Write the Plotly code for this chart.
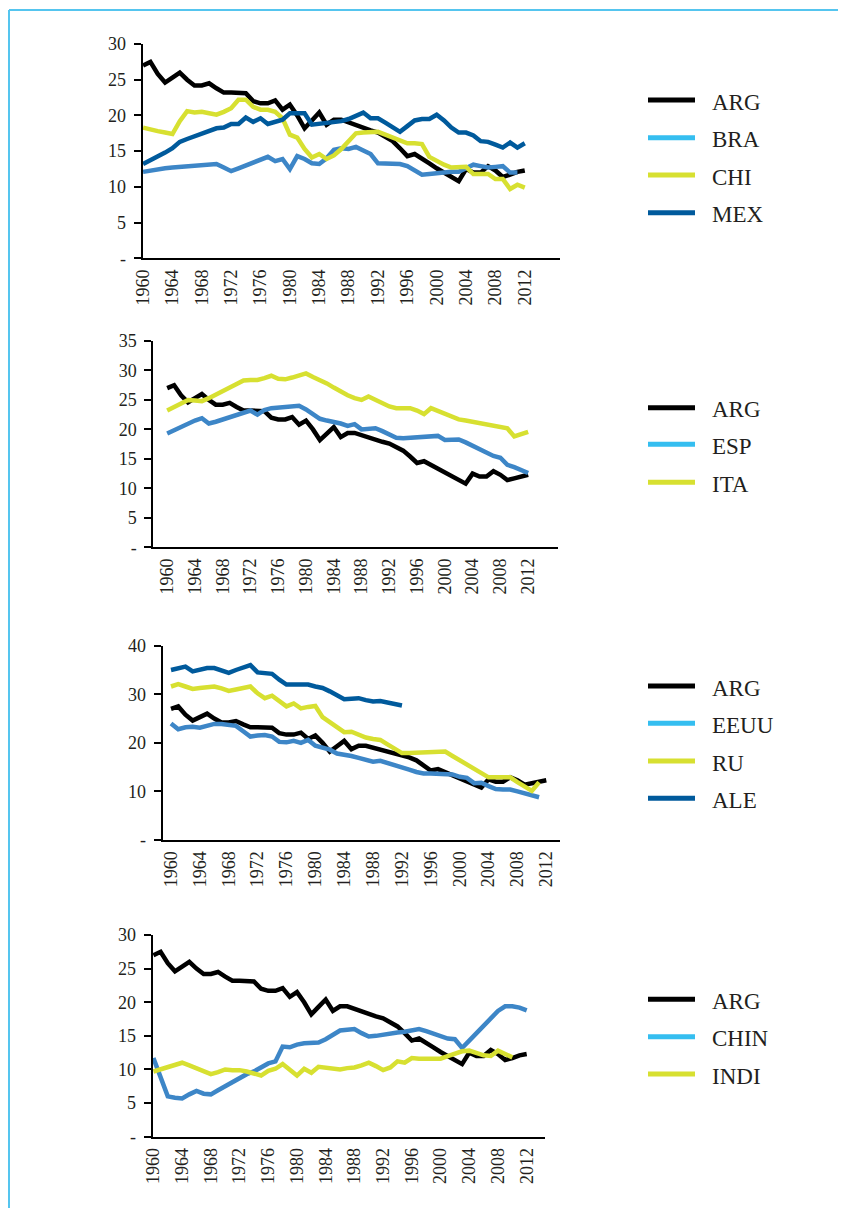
import plotly.graph_objects as go

# --- data -------------------------------------------------------------
years = list(range(1960, 2013))
year_ticks = list(range(1960, 2013, 4))

arg = [27.0, 27.5, 25.8, 24.6, 25.3, 26.0, 25.0, 24.2, 24.2, 24.5,
       23.8, 23.2, 23.2, 23.1, 23.1, 22.0, 21.7, 21.7, 22.1, 20.8,
       21.5, 20.0, 18.2, 19.3, 20.4, 18.7, 19.4, 19.4, 19.0, 18.6,
       18.2, 17.9, 17.6, 17.0, 16.4, 15.4, 14.3, 14.6, 14.0, 13.3,
       12.6, 12.0, 11.5, 10.8, 12.5, 12.0, 12.0, 12.9, 12.3, 11.4,
       11.7, 12.1, 12.3]
bra = [12.1, 12.3, 12.4, 12.6, 12.7, 12.8, 12.8, 12.9, 13.0, 13.1,
       13.2, 12.7, 12.2, 12.6, 13.0, 13.4, 13.8, 14.2, 13.6, 13.9,
       12.5, 14.3, 13.9, 13.3, 13.2, 14.0, 15.2, 15.4, 15.3, 15.6,
       15.1, 14.6, 13.3, 13.3, 13.2, 13.2, 12.9, 12.3, 11.7, 11.8,
       11.9, 12.1, 12.1, 12.1, 12.6, 13.1, 12.9, 12.7, 12.8, 12.9,
       12.0, 12.0, None]
chi = [18.3, 18.0, 17.8, 17.6, 17.4, 19.2, 20.6, 20.4, 20.5, 20.3,
       20.1, 20.5, 21.0, 22.2, 22.2, 21.2, 20.8, 20.8, 20.5, 19.6,
       17.3, 16.9, 15.3, 14.1, 14.6, 13.9, 14.4, 15.3, 16.4, 17.5,
       17.6, 17.7, 17.7, 17.3, 16.9, 16.6, 16.1, 16.1, 16.0, 14.2,
       13.6, 13.1, 12.7, 12.7, 12.8, 11.8, 11.8, 11.8, 11.1, 11.1,
       9.7, 10.3, 9.9]
mex = [13.2, 13.7, 14.2, 14.8, 15.4, 16.3, 16.7, 17.1, 17.5, 17.9,
       18.2, 18.3, 18.8, 18.8, 19.7, 19.1, 19.6, 18.8, 19.1, 19.4,
       20.3, 20.3, 20.3, 18.7, 18.8, 18.9, 19.1, 19.2, 19.5, 19.9,
       20.4, 19.6, 19.6, 19.0, 18.3, 17.7, 18.5, 19.3, 19.5, 19.5,
       20.1, 19.3, 18.3, 17.6, 17.6, 17.2, 16.4, 16.3, 15.9, 15.5,
       16.2, 15.5, 16.1]
esp = [19.3, 19.9, 20.4, 21.0, 21.5, 21.9, 21.0, 21.3, 21.7, 22.1,
       22.5, 22.8, 23.2, 22.5, 23.3, 23.6, 23.7, 23.8, 23.9, 24.0,
       23.4, 22.6, 21.8, 21.5, 21.3, 21.0, 20.6, 20.9, 20.0, 20.1,
       20.2, 19.7, 19.2, 18.6, 18.5, 18.6, 18.7, 18.7, 18.8, 18.9,
       18.2, 18.2, 18.3, 17.8, 17.2, 16.6, 16.1, 15.5, 15.2, 14.0,
       13.6, 13.1, 12.6]
ita = [23.2, 23.8, 24.4, 25.0, 24.9, 24.8, 25.3, 25.9, 26.4, 26.9,
       27.6, 28.3, 28.4, 28.4, 28.7, 29.1, 28.6, 28.5, 28.8, 29.1,
       29.5, 28.9, 28.4, 27.8, 27.1, 26.4, 25.8, 25.3, 25.0, 25.6,
       25.0, 24.4, 23.9, 23.6, 23.6, 23.6, 23.2, 22.6, 23.6, 23.1,
       22.6, 22.1, 21.7, 21.5, 21.3, 21.0, 20.8, 20.6, 20.4, 20.2,
       18.8, 19.2, 19.6]
eeuu = [24.0, 22.8, 23.2, 23.3, 23.1, 23.6, 23.9, 23.9, 23.7, 23.5,
        22.4, 21.3, 21.5, 21.6, 21.3, 20.2, 20.1, 20.4, 20.0, 20.6,
        19.4, 19.0, 18.6, 17.8, 17.6, 17.3, 16.9, 16.5, 16.1, 16.3,
        15.9, 15.4, 15.0, 14.5, 14.0, 13.7, 13.7, 13.7, 13.7, 13.5,
        13.0, 12.8, 11.7, 11.8, 11.1, 10.5, 10.4, 10.4, 10.0, 9.6,
        9.2, 8.8, None]
ru = [31.6, 32.1, 31.6, 31.1, 31.3, 31.4, 31.6, 31.2, 30.7, 31.0,
      31.4, 31.6, 30.2, 29.2, 29.7, 28.6, 27.5, 28.1, 27.1, 27.4,
      27.6, 25.3, 24.3, 23.3, 22.2, 22.3, 21.6, 21.1, 20.8, 20.6,
      19.7, 18.7, 17.9, 17.9, 18.0, 18.0, 18.1, 18.1, 18.2, 17.3,
      16.4, 15.4, 14.5, 13.6, 12.9, 12.9, 12.9, 12.9, 11.9, 10.9,
      10.1, 11.9, None]
ale = [35.0, 35.3, 35.7, 34.7, 35.1, 35.4, 35.4, 34.8, 34.4, 35.0,
       35.5, 36.0, 34.5, 34.4, 34.2, 33.0, 32.0, 32.0, 32.1, 32.0,
       31.6, 31.3, 30.6, 29.8, 29.0, 29.1, 29.2, 28.8, 28.5, 28.6,
       28.3, 28.0, 27.7] + [None] * 20
chin = [11.7, 8.8, 6.0, 5.8, 5.7, 6.3, 6.8, 6.4, 6.3, 6.9,
        7.5, 8.2, 8.8, 9.3, 9.7, 10.3, 10.9, 11.2, 13.4, 13.3,
        13.7, 13.9, 13.9, 14.0, 14.5, 15.1, 15.8, 15.9, 16.0, 15.4,
        14.9, 15.0, 15.2, 15.3, 15.5, 15.6, 15.8, 16.0, 15.7, 15.3,
        14.9, 14.6, 14.5, 13.2, 14.3, 15.4, 16.5, 17.6, 18.7, 19.4,
        19.4, 19.2, 18.8]
indi = [9.7, 10.0, 10.3, 10.6, 11.0, 10.6, 10.2, 9.7, 9.3, 9.6,
        10.0, 9.9, 9.9, 9.7, 9.4, 9.1, 9.8, 10.1, 10.8, 10.0,
        9.1, 10.1, 9.5, 10.4, 10.3, 10.2, 10.0, 10.2, 10.3, 10.6,
        11.0, 10.5, 9.9, 10.3, 11.2, 11.0, 11.7, 11.6, 11.6, 11.5,
        11.6, 12.0, 12.4, 12.7, 12.8, 12.4, 12.1, 12.0, 12.8, 12.3,
        11.8, None, None]

# --- styling ----------------------------------------------------------
BLACK = "#000000"
MID = "#3d86c7"
LIGHT = "#35bef0"   # colour used in the legend keys for the mid-blue series
YEL = "#d7e031"
DARK = "#005a9c"
FONT = "Liberation Serif"
W, H = 846, 1208
OFF = 8  # the page body margin shifts the figure by this many px

def px(x):
    return (x - OFF) / W

def py(y):
    return 1 - (y - OFF) / H

panels = [
    dict(series=[("ARG", arg, BLACK, BLACK), ("BRA", bra, MID, LIGHT),
                 ("CHI", chi, YEL, YEL), ("MEX", mex, DARK, DARK)],
         ymax=30, dtick=5, x0=142.7, x1=560, y0=258.3, y1=44,
         xr=(1959.95, 2016.8), leg=[100, 137.7, 175, 212.7]),
    dict(series=[("ARG", arg, BLACK, BLACK), ("ESP", esp, MID, LIGHT),
                 ("ITA", ita, YEL, YEL)],
         ymax=35, dtick=5, x0=153.3, x1=558, y0=547.3, y1=341,
         xr=(1958.0, 2016.3), leg=[407.7, 444.3, 482.3]),
    dict(series=[("ARG", arg, BLACK, BLACK), ("EEUU", eeuu, MID, LIGHT),
                 ("RU", ru, YEL, YEL), ("ALE", ale, DARK, DARK)],
         ymax=40, dtick=10, x0=162.7, x1=560, y0=840, y1=645.7,
         xr=(1958.85, 2013.9), leg=[686, 723.3, 761, 798.3]),
    dict(series=[("ARG", arg, BLACK, BLACK), ("CHIN", chin, MID, LIGHT),
                 ("INDI", indi, YEL, YEL)],
         ymax=30, dtick=5, x0=152.7, x1=545, y0=1136.7, y1=935,
         xr=(1959.9, 2014.55), leg=[999.3, 1036.7, 1074]),
]

fig = go.Figure()
shapes = []
annotations = []
layout = {}

for i, p in enumerate(panels, start=1):
    sfx = "" if i == 1 else str(i)
    for name, vals, col, legcol in p["series"]:
        fig.add_trace(go.Scatter(
            x=years, y=vals, mode="lines", name=name, showlegend=False,
            line=dict(color=col, width=4.5),
            xaxis="x" + sfx, yaxis="y" + sfx,
        ))
    yt = list(range(0, p["ymax"] + 1, p["dtick"]))
    layout["xaxis" + sfx] = dict(
        domain=[px(p["x0"]), px(p["x1"])], range=list(p["xr"]),
        anchor="y" + sfx, showgrid=False, zeroline=False, automargin=False,
        showline=True, linecolor="black", linewidth=2,
        tickmode="array", tickvals=year_ticks, ticks="",
        tickangle=-90, ticklabelstandoff=2,
        tickfont=dict(family=FONT, size=18, color="#231f20"),
    )
    layout["yaxis" + sfx] = dict(
        domain=[py(p["y0"]), py(p["y1"])], range=[0, p["ymax"]],
        anchor="x" + sfx, showgrid=False, zeroline=False, automargin=False,
        showline=True, linecolor="black", linewidth=2,
        tickmode="array", tickvals=yt,
        ticktext=["-"] + [str(v) for v in yt[1:]],
        ticks="outside", ticklen=7, tickwidth=1.5, tickcolor="black",
        ticklabelstandoff=4,
        tickfont=dict(family=FONT, size=18, color="#231f20"),
    )
    # legend keys drawn beside each panel
    for (name, vals, col, legcol), ly in zip(p["series"], p["leg"]):
        shapes.append(dict(type="line", xref="paper", yref="paper",
                           x0=px(648), x1=px(695), y0=py(ly), y1=py(ly),
                           line=dict(color=legcol, width=5)))
        annotations.append(dict(text=name, xref="paper", yref="paper",
                                x=px(710), y=py(ly + 2), xanchor="left",
                                yanchor="middle", showarrow=False,
                                font=dict(family=FONT, size=23, color="#231f20")))

# light blue frame (top and left edges)
shapes.append(dict(type="line", xref="paper", yref="paper",
                   x0=1 / W, x1=1.0, y0=py(10), y1=py(10),
                   line=dict(color="#55c5ef", width=2)))
shapes.append(dict(type="line", xref="paper", yref="paper",
                   x0=1 / W, x1=1 / W, y0=py(10), y1=0.0,
                   line=dict(color="#55c5ef", width=2)))

fig.update_layout(
    template="none",
    width=W, height=H,
    margin=dict(l=0, r=0, t=0, b=0, pad=0, autoexpand=False),
    paper_bgcolor="white", plot_bgcolor="white",
    showlegend=False,
    shapes=shapes, annotations=annotations,
    **layout,
)

fig.write_html("out.html")
